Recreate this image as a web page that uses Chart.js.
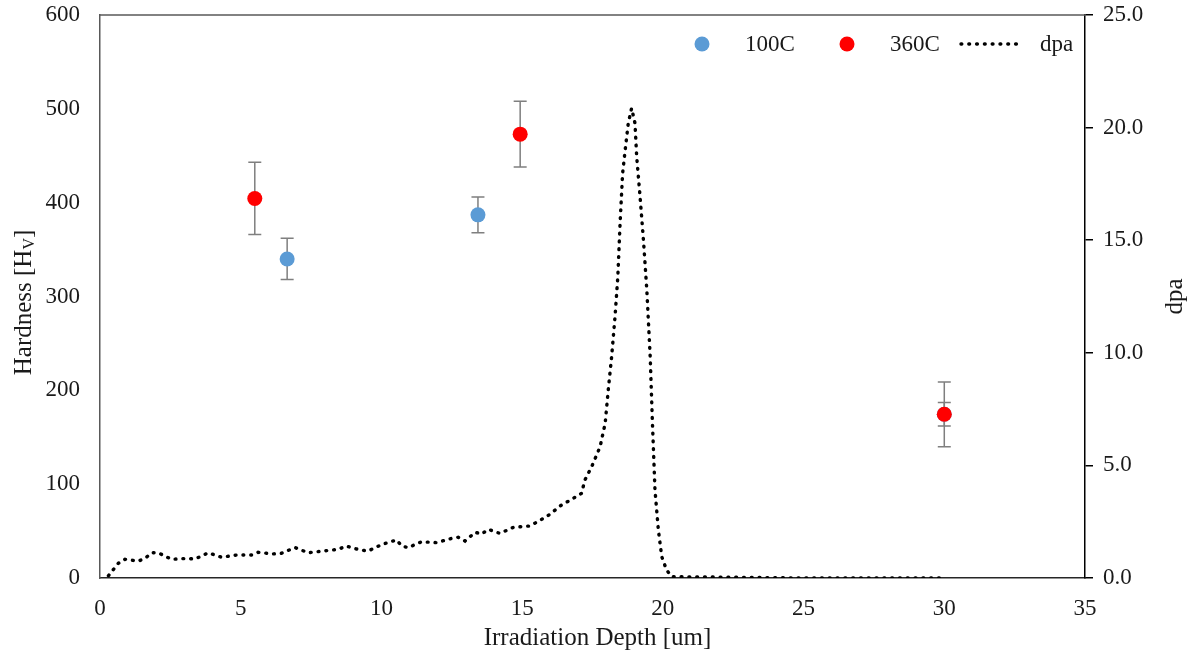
<!DOCTYPE html>
<html>
<head>
<meta charset="utf-8">
<script src="https://cdn.jsdelivr.net/npm/chart.js@4/dist/chart.umd.min.js"></script>
<style>
  body { margin: 0; background: #fff; }
</style>
</head>
<body>
<canvas id="myChart" width="1194" height="662"></canvas>
<script>
// hardness data (x = depth in um)
const depth100 = [6.65, 13.43, 30.0];
const hard100 = [340, 387, 174.5];
const err100 = [22, 19, 12.5];

const depth360 = [5.5, 14.93, 30.0];
const hard360 = [404.5, 473, 174.5];
const err360 = [38.5, 35, 34.5];

// dpa profile
const dpaDepth = [0.3, 0.65, 0.89, 1.36, 1.6, 1.84, 2.07, 2.54, 3.08, 3.37, 3.85, 4.32, 4.85, 5.39, 5.62,
  6.16, 6.45, 6.93, 7.4, 7.93, 8.47, 8.74, 9.26, 9.53, 10.04, 10.54, 10.72, 10.95, 11.43, 11.96, 12.5,
  12.73, 12.97, 13.33, 13.56, 13.8, 14.21, 14.69, 15.28, 15.7, 15.99, 16.35, 16.82, 17.11, 17.23, 17.47,
  17.77, 17.95, 18.06, 18.18, 18.3, 18.4, 18.48, 18.57, 18.66, 18.77, 18.89, 19.01, 19.07, 19.19, 19.31,
  19.43, 19.55, 19.63, 19.72, 19.84, 19.96, 20.13, 20.31, 25, 29.85];
const dpaValue = [0.1, 0.65, 0.83, 0.75, 0.87, 1.12, 1.12, 0.83, 0.87, 0.84, 1.12, 0.92, 1.02, 1.02, 1.14,
  1.07, 1.1, 1.35, 1.12, 1.2, 1.27, 1.42, 1.24, 1.2, 1.5, 1.69, 1.42, 1.35, 1.61, 1.57, 1.76,
  1.81, 1.64, 2.03, 1.95, 2.16, 1.98, 2.25, 2.31, 2.61, 2.83, 3.2, 3.54, 3.76, 4.35, 4.94,
  5.83, 6.87, 8.35, 9.83, 11.6, 13.38, 15.75, 17.97, 19.0, 20.19, 20.86, 20.19, 18.71, 16.93, 15.01,
  12.79, 9.83, 6.87, 3.91, 2.13, 0.95, 0.36, 0.06, 0, 0];

const xTicks = [0, 5, 10, 15, 20, 25, 30, 35];

const FONT = "'Liberation Serif', 'Times New Roman', serif";
const TEXT = '#1a1a1a';

const toPoints = (xs, ys) => xs.map((x, i) => ({ x: x, y: ys[i] }));

// fixed box sizes so the plot area sits where the reference has it
const fixSize = (w, h) => (s) => {
  if (w) s.width = w;
  if (h) s.height = h;
  s.paddingTop = 0; s.paddingBottom = 0; s.paddingLeft = 0; s.paddingRight = 0;
};

// error bars, drawn under the markers
const errorBars = {
  id: 'errorBars',
  beforeDatasetsDraw(chart) {
    const ctx = chart.ctx;
    const xs = chart.scales.x, ys = chart.scales.y;
    ctx.save();
    ctx.strokeStyle = '#7f7f7f';
    ctx.lineWidth = 1.5;
    chart.data.datasets.forEach((ds) => {
      if (!ds.errors) return;
      ds.data.forEach((p, i) => {
        const px = xs.getPixelForValue(p.x);
        const top = ys.getPixelForValue(p.y + ds.errors[i]);
        const bot = ys.getPixelForValue(p.y - ds.errors[i]);
        ctx.beginPath();
        ctx.moveTo(px, top); ctx.lineTo(px, bot);
        ctx.moveTo(px - 6.5, top); ctx.lineTo(px + 6.5, top);
        ctx.moveTo(px - 6.5, bot); ctx.lineTo(px + 6.5, bot);
        ctx.stroke();
      });
    });
    ctx.restore();
  }
};

// frame top, axis titles and the legend
const decorations = {
  id: 'decorations',
  afterDraw(chart) {
    const ctx = chart.ctx;
    const a = chart.chartArea;
    ctx.save();
    ctx.strokeStyle = '#595959';
    ctx.lineWidth = 1.5;
    ctx.beginPath();
    ctx.moveTo(a.left, a.top); ctx.lineTo(a.right, a.top);
    ctx.stroke();

    ctx.fillStyle = TEXT;
    ctx.textBaseline = 'middle';

    // x title
    ctx.font = '25px ' + FONT;
    ctx.textAlign = 'center';
    ctx.fillText('Irradiation Depth [um]', (a.left + a.right) / 2 + 5, 638);

    // left title with subscript V
    ctx.save();
    ctx.translate(24, (a.top + a.bottom) / 2 + 6);
    ctx.rotate(-Math.PI / 2);
    const p1 = 'Hardness [H', p2 = 'V', p3 = ']';
    ctx.font = '25px ' + FONT;
    const w1 = ctx.measureText(p1).width, w3 = ctx.measureText(p3).width;
    ctx.font = '16px ' + FONT;
    const w2 = ctx.measureText(p2).width;
    let x0 = -(w1 + w2 + w3) / 2;
    ctx.textAlign = 'left';
    ctx.font = '25px ' + FONT;
    ctx.fillText(p1, x0, 0);
    ctx.font = '16px ' + FONT;
    ctx.fillText(p2, x0 + w1, 6);
    ctx.font = '25px ' + FONT;
    ctx.fillText(p3, x0 + w1 + w2, 0);
    ctx.restore();

    // right title
    ctx.save();
    ctx.translate(1175, (a.top + a.bottom) / 2);
    ctx.rotate(-Math.PI / 2);
    ctx.textAlign = 'center';
    ctx.font = '25px ' + FONT;
    ctx.fillText('dpa', 0, 0);
    ctx.restore();

    // legend
    const ds = chart.data.datasets;
    const ly = 44;
    ctx.font = '23px ' + FONT;
    ctx.textAlign = 'left';
    [[ds[0], 702, 745], [ds[1], 847, 890]].forEach(([d, cx, tx]) => {
      ctx.fillStyle = d.backgroundColor;
      ctx.beginPath();
      ctx.arc(cx, ly, 7.5, 0, Math.PI * 2);
      ctx.fill();
      ctx.fillStyle = TEXT;
      ctx.fillText(d.label, tx, ly + 1);
    });
    ctx.strokeStyle = ds[2].borderColor;
    ctx.lineWidth = ds[2].borderWidth;
    ctx.lineCap = 'round';
    ctx.setLineDash(ds[2].borderDash);
    ctx.beginPath();
    ctx.moveTo(961, ly); ctx.lineTo(1022, ly);
    ctx.stroke();
    ctx.setLineDash([]);
    ctx.fillStyle = TEXT;
    ctx.fillText(ds[2].label, 1040, ly + 1);
    ctx.restore();
  }
};

document.addEventListener("DOMContentLoaded", () => {
  const ctx = document.getElementById('myChart').getContext('2d');

  new Chart(ctx, {
    type: 'scatter',
    data: {
      datasets: [
        {
          label: '100C',
          data: toPoints(depth100, hard100),
          errors: err100,
          backgroundColor: '#5B9BD5',
          borderWidth: 0,
          pointRadius: 7.5,
          yAxisID: 'y',
          order: 1
        },
        {
          label: '360C',
          data: toPoints(depth360, hard360),
          errors: err360,
          backgroundColor: '#FF0000',
          borderWidth: 0,
          pointRadius: 7.5,
          yAxisID: 'y',
          order: 0
        },
        {
          label: 'dpa',
          type: 'line',
          data: toPoints(dpaDepth, dpaValue),
          borderColor: '#000000',
          borderWidth: 3.4,
          borderDash: [0.8, 7],
          borderCapStyle: 'round',
          pointRadius: 0,
          tension: 0,
          fill: false,
          yAxisID: 'y2',
          order: 2
        }
      ]
    },
    options: {
      responsive: false,
      animation: false,
      layout: { padding: { top: 15, left: 0, right: 0, bottom: 0 } },
      plugins: {
        legend: { display: false },
        tooltip: { enabled: false }
      },
      scales: {
        x: {
          type: 'linear',
          min: 0,
          max: 35,
          afterBuildTicks: (s) => { s.ticks = xTicks.map(v => ({ value: v })); },
          afterFit: fixSize(0, 84),
          grid: { drawOnChartArea: false, drawTicks: false },
          border: { display: true, color: '#262626', width: 1.5 },
          ticks: { padding: 17, color: TEXT, font: { family: FONT, size: 23 }, maxRotation: 0 }
        },
        y: {
          position: 'left',
          min: 0,
          max: 600,
          afterFit: fixSize(100, 0),
          grid: { drawOnChartArea: false, drawTicks: false },
          border: { display: true, color: '#595959', width: 1.5 },
          ticks: { stepSize: 100, padding: 20, color: TEXT, font: { family: FONT, size: 23 } }
        },
        y2: {
          position: 'right',
          min: 0,
          max: 25,
          afterFit: fixSize(109, 0),
          grid: { drawOnChartArea: false, drawTicks: true, tickLength: 8, color: '#000000', lineWidth: 1.5 },
          border: { display: true, color: '#000000', width: 1.5 },
          ticks: {
            stepSize: 5, padding: 10, color: TEXT, font: { family: FONT, size: 23 },
            callback: (v) => v.toFixed(1)
          }
        }
      }
    },
    plugins: [errorBars, decorations]
  });
});
</script>
</body>
</html>
